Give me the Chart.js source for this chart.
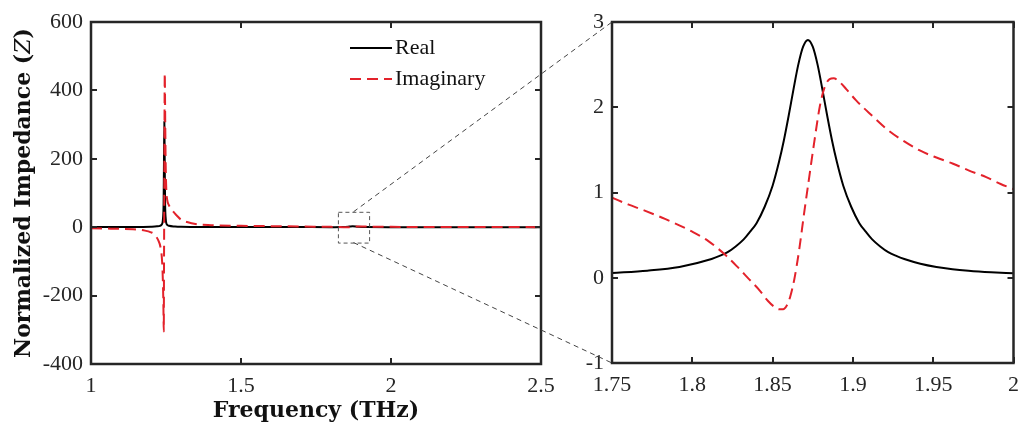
<!DOCTYPE html>
<html><head><meta charset="utf-8">
<script src="https://cdn.jsdelivr.net/npm/chart.js@4.4.1/dist/chart.umd.min.js"></script>
<style>
html,body{margin:0;padding:0;background:#fff;}
#wrap{position:relative;width:1028px;height:427px;overflow:hidden;background:#fff;}
#c1{position:absolute;left:0;top:0;}
#c2{position:absolute;left:566px;top:0;}
#ov{position:absolute;left:0;top:0;pointer-events:none;}
</style></head><body>
<div id="wrap">
<canvas id="c1" width="566" height="427"></canvas>
<canvas id="c2" width="462" height="427"></canvas>
<canvas id="ov" width="1028" height="427"></canvas>
</div>
<script>
// ---------- DATA ----------
const seriesNames = ['Real', 'Imaginary'];
const xTitle = 'Frequency (THz)';
const yTitleParts = ['Normalized Impedance (', 'Z', ')'];

// Left (full range) panel
const leftXTicks = [1, 1.5, 2, 2.5];
const leftXLabels = ['1', '1.5', '2', '2.5'];
const leftYTicks = [-400, -200, 0, 200, 400, 600];
const leftYLabels = ['-400', '-200', '0', '200', '400', '600'];

const leftRealFreq = [1.00, 1.10, 1.15, 1.20, 1.22, 1.23, 1.235, 1.238, 1.240, 1.242, 1.243, 1.2445, 1.246, 1.247, 1.249, 1.251, 1.255, 1.26, 1.28, 1.30, 1.40, 1.50, 1.60, 1.70, 1.80, 1.84, 1.86, 1.872, 1.89, 1.92, 2.00, 2.20, 2.50];
const leftReal     = [0.3, 0.5, 0.8, 1.5, 2.5, 4, 7, 12, 25, 70, 160, 310, 160, 70, 25, 12, 6, 4, 2, 1.2, 0.6, 0.4, 0.3, 0.25, 0.2, 0.6, 1.8, 2.8, 1.2, 0.3, 0.08, 0.05, 0.03];

const leftImagFreq = [1.00, 1.05, 1.10, 1.14, 1.18, 1.20, 1.21, 1.224, 1.232, 1.237, 1.240, 1.2415, 1.2425, 1.2435, 1.2445, 1.2458, 1.2475, 1.249, 1.251, 1.254, 1.26, 1.27, 1.285, 1.30, 1.32, 1.36, 1.40, 1.50, 1.60, 1.70, 1.80, 1.83, 1.856, 1.872, 1.888, 1.92, 2.00, 2.20, 2.50];
const leftImag     = [-3, -4, -5, -6, -10, -15, -20, -38, -60, -100, -170, -240, -305, -80, 150, 450, 300, 180, 110, 80, 64, 50, 35, 22, 15, 8, 6, 4, 3, 2, 1, 0.3, -0.4, 0.9, 2.3, 1.7, 1.0, 0.5, 0.2];

// Zoom window marked on the left panel
const zoomBoxFreq = [1.823, 1.927];
const zoomBoxImp = [-45, 45];

// Right (zoomed) panel
const rightXTicks = [1.75, 1.8, 1.85, 1.9, 1.95, 2];
const rightXLabels = ['1.75', '1.8', '1.85', '1.9', '1.95', '2'];
const rightYTicks = [-1, 0, 1, 2, 3];
const rightYLabels = ['-1', '0', '1', '2', '3'];

const rightRealFreq = [1.75, 1.772, 1.792, 1.812, 1.817, 1.822, 1.827, 1.832, 1.836, 1.840, 1.845, 1.850, 1.854, 1.857, 1.860, 1.863, 1.866, 1.869, 1.872, 1.875, 1.878, 1.881, 1.884, 1.887, 1.890, 1.894, 1.899, 1.904, 1.908, 1.912, 1.917, 1.922, 1.927, 1.932, 1.942, 1.952, 1.962, 1.972, 1.986, 2.00];
const rightReal     = [0.056, 0.083, 0.127, 0.22, 0.256, 0.30, 0.367, 0.45, 0.54, 0.64, 0.83, 1.08, 1.36, 1.61, 1.90, 2.21, 2.50, 2.71, 2.79, 2.71, 2.50, 2.21, 1.90, 1.61, 1.36, 1.08, 0.83, 0.64, 0.54, 0.45, 0.367, 0.30, 0.256, 0.22, 0.165, 0.127, 0.101, 0.083, 0.065, 0.052];

const rightImagFreq = [1.75, 1.76, 1.77, 1.783, 1.80, 1.81, 1.821, 1.828, 1.835, 1.842, 1.847, 1.851, 1.854, 1.8565, 1.859, 1.861, 1.8635, 1.8665, 1.8695, 1.8725, 1.876, 1.8795, 1.8825, 1.8855, 1.888, 1.8915, 1.896, 1.902, 1.912, 1.922, 1.932, 1.942, 1.952, 1.962, 1.972, 1.983, 1.992, 2.00];
const rightImag     = [0.94, 0.86, 0.79, 0.69, 0.54, 0.43, 0.26, 0.13, -0.01, -0.15, -0.27, -0.34, -0.37, -0.37, -0.32, -0.22, -0.02, 0.32, 0.74, 1.14, 1.60, 2.02, 2.24, 2.33, 2.34, 2.30, 2.21, 2.08, 1.90, 1.73, 1.60, 1.49, 1.41, 1.34, 1.26, 1.18, 1.10, 1.04];

// ---------- STYLE ----------
const RED = '#e3222b';
const AXC = '#262626';
const TICK_FONT = {family: '"Liberation Serif", serif', size: 22};
const TITLE_FONT = {family: '"DejaVu Serif", serif', size: 22, weight: 'bold'};

function pts(xs, ys){ return xs.map((x,i)=>({x:x, y:ys[i]})); }

const boxPlugin = {
  id: 'matlabBox',
  afterDatasetsDraw(chart, args, opts){
    const {ctx, chartArea:a} = chart;
    const x = chart.scales.x, y = chart.scales.y;
    ctx.save();
    if (opts.zoomBox) {
      const x0 = x.getPixelForValue(zoomBoxFreq[0]), x1 = x.getPixelForValue(zoomBoxFreq[1]);
      const y0 = y.getPixelForValue(zoomBoxImp[1]), y1 = y.getPixelForValue(zoomBoxImp[0]);
      ctx.setLineDash([4,3]); ctx.lineWidth = 1; ctx.strokeStyle = '#555';
      ctx.strokeRect(x0+0.5, y0+0.5, x1-x0, y1-y0);
      ctx.setLineDash([]);
    }
    ctx.strokeStyle = AXC; ctx.lineWidth = 2;
    ctx.beginPath();
    const L = 6;
    x.ticks.forEach(t=>{ const p = Math.round(x.getPixelForValue(t.value));
      ctx.moveTo(p, a.bottom); ctx.lineTo(p, a.bottom-L);
      ctx.moveTo(p, a.top); ctx.lineTo(p, a.top+L); });
    y.ticks.forEach(t=>{ const p = Math.round(y.getPixelForValue(t.value));
      ctx.moveTo(a.left, p); ctx.lineTo(a.left+L, p);
      ctx.moveTo(a.right, p); ctx.lineTo(a.right-L, p); });
    ctx.stroke();
    ctx.lineWidth = 2.5;
    ctx.strokeRect(a.left, a.top, a.right-a.left, a.bottom-a.top);
    if (opts.legend) {
      const lx = a.right - 191, ly = a.top + 26;
      ctx.font = '22px "Liberation Serif", serif';
      ctx.textBaseline = 'middle'; ctx.fillStyle = '#111';
      chart.data.datasets.slice().sort((p,q)=>p.legendIndex-q.legendIndex).forEach((ds,i)=>{
        const yy = ly + i*31;
        ctx.strokeStyle = ds.borderColor; ctx.lineWidth = 2;
        ctx.setLineDash(ds.borderDash || []);
        ctx.beginPath(); ctx.moveTo(lx, yy); ctx.lineTo(lx+42, yy); ctx.stroke();
        ctx.setLineDash([]);
        ctx.fillText(ds.label, lx+45, yy);
      });
    }
    if (opts.yTitle) {
      const cy = (a.top + a.bottom)/2;
      ctx.translate(24, cy); ctx.rotate(-Math.PI/2);
      const f1 = 'bold 22px "DejaVu Serif", serif', f2 = 'italic 22px "DejaVu Serif", serif';
      ctx.font = f1; const w1 = ctx.measureText(yTitleParts[0]).width, w3 = ctx.measureText(yTitleParts[2]).width;
      ctx.font = f2; const w2 = ctx.measureText(yTitleParts[1]).width;
      let sx = -(w1+w2+w3)/2;
      ctx.textBaseline = 'middle'; ctx.fillStyle = '#111';
      ctx.font = f1; ctx.fillText(yTitleParts[0], sx, 0); sx += w1;
      ctx.font = f2; ctx.fillText(yTitleParts[1], sx, 0); sx += w2;
      ctx.font = f1; ctx.fillText(yTitleParts[2], sx, 0);
    }
    ctx.restore();
  }
};

function makeChart(canvas, cfg){
  return new Chart(canvas, {
    type: 'line',
    data: { datasets: [
      { label: seriesNames[0], data: cfg.real, borderColor: '#000', borderWidth: 2, order: 1, legendIndex: 0, cubicInterpolationMode: 'monotone', tension: 0.4 },
      { label: seriesNames[1], data: cfg.imag, borderColor: RED, borderWidth: 2, borderDash: [11,6], order: 0, legendIndex: 1, cubicInterpolationMode: 'monotone', tension: 0.4 }
    ]},
    options: {
      responsive: false, animation: false, devicePixelRatio: 1,
      elements: { point: { radius: 0 }, line: { borderCapStyle: 'butt' } },
      layout: { autoPadding: false, padding: { top: 22, right: cfg.padRight, left: 0, bottom: 0 } },
      plugins: { legend: { display: false }, tooltip: { enabled: false },
        matlabBox: { legend: cfg.legend, yTitle: cfg.legend, zoomBox: cfg.legend } },
      scales: {
        x: { type: 'linear', min: cfg.xTicks[0], max: cfg.xTicks[cfg.xTicks.length-1],
          grid: { display: false, drawTicks: false }, border: { display: false },
          afterBuildTicks: s => { s.ticks = cfg.xTicks.map(v=>({value:v})); },
          afterFit: s => { s.height = cfg.xAxisH; },
          ticks: { font: TICK_FONT, color: AXC, padding: 9, maxRotation: 0, autoSkip: false,
            callback: (v,i) => cfg.xLabels[i] },
          title: { display: cfg.legend, text: xTitle, font: TITLE_FONT, color: '#111', padding: {top: 0, bottom: 3} }
        },
        y: { type: 'linear', min: cfg.yTicks[0], max: cfg.yTicks[cfg.yTicks.length-1],
          grid: { display: false, drawTicks: false }, border: { display: false },
          afterBuildTicks: s => { s.ticks = cfg.yTicks.map(v=>({value:v})); },
          afterFit: s => { s.width = cfg.yAxisW; },
          ticks: { font: TICK_FONT, color: AXC, padding: 8, autoSkip: false,
            callback: (v,i) => cfg.yLabels[i] }
        }
      }
    },
    plugins: [boxPlugin]
  });
}

const left = makeChart(document.getElementById('c1'), {
  real: pts(leftRealFreq, leftReal), imag: pts(leftImagFreq, leftImag),
  xTicks: leftXTicks, xLabels: leftXLabels, yTicks: leftYTicks, yLabels: leftYLabels,
  padRight: 25, xAxisH: 63, yAxisW: 91, legend: true
});
const right = makeChart(document.getElementById('c2'), {
  real: pts(rightRealFreq, rightReal), imag: pts(rightImagFreq, rightImag),
  xTicks: rightXTicks, xLabels: rightXLabels, yTicks: rightYTicks, yLabels: rightYLabels,
  padRight: 3, xAxisH: 64, yAxisW: 46, legend: false
});

(function(){
  const ov = document.getElementById('ov').getContext('2d');
  const offX = 566;
  const cx = left.scales.x.getPixelForValue((zoomBoxFreq[0]+zoomBoxFreq[1])/2);
  const ty = left.scales.y.getPixelForValue(zoomBoxImp[1]);
  const by = left.scales.y.getPixelForValue(zoomBoxImp[0]);
  const ra = right.chartArea;
  ov.strokeStyle = '#444'; ov.lineWidth = 1; ov.setLineDash([5,4]);
  ov.beginPath();
  ov.moveTo(cx, ty); ov.lineTo(offX + ra.left, ra.top);
  ov.moveTo(cx, by); ov.lineTo(offX + ra.left, ra.bottom);
  ov.stroke();
})();
</script>
</body></html>
